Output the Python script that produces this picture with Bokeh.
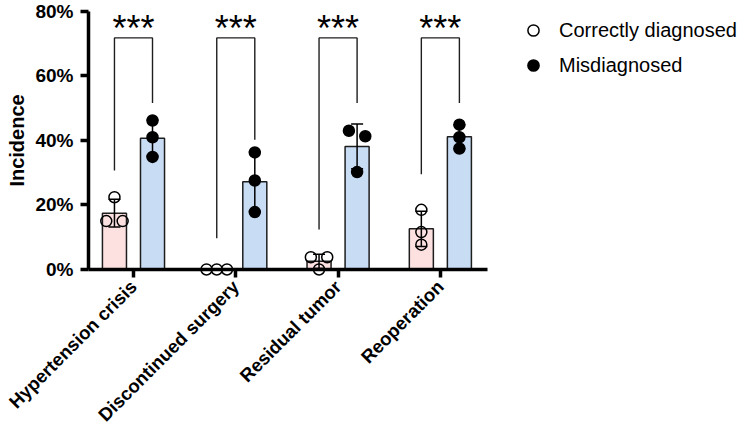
import numpy as np
from bokeh.plotting import figure
from bokeh.models import ColumnDataSource, FixedTicker, Whisker, TeeHead, Legend, LegendItem
from bokeh.core.properties import value
from bokeh.embed import file_html
from bokeh.resources import INLINE

# data (percent)
categories = ["Hypertension crisis", "Discontinued surgery", "Residual tumor", "Reoperation"]
correct_pts = [[22.4, 15.0, 15.0], [0.0, 0.0, 0.0], [3.8, 3.8, 0.0], [18.5, 11.6, 7.7]]
mis_pts = [[46.2, 41.0, 34.9], [36.3, 27.6, 17.8], [43.0, 41.3, 30.2], [44.9, 41.0, 37.5]]
y_ticks = [0, 20, 40, 60, 80]
bracket_top = 71.8
bracket_left = [30.7, 9.7, 12.4, 29.5]
bracket_right = [51.6, 40.2, 51.6, 51.6]
stars = ["***", "***", "***", "***"]
star_level = 74.6

FONT = "Liberation Sans"
PINK = "#fde1e1"
BLUE = "#c8dcf4"
EDGE = "#1e1e1e"
OFF = 0.186      # half distance between paired bars
BAR_W = 0.235
DOT = 11
X0 = -0.44       # where the y axis stands

def spread(vals, x0, thr=3.4):
	# place overlapping dots side by side, the way prism does it
	vals = list(vals)
	xs = [x0] * len(vals)
	order = sorted(range(len(vals)), key=lambda i: -vals[i])
	groups, cur = [], [order[0]]
	for i in order[1:]:
		if abs(vals[cur[-1]] - vals[i]) < thr:
			cur.append(i)
		else:
			groups.append(cur)
			cur = [i]
	groups.append(cur)
	for g in groups:
		n = len(g)
		if n > 1:
			w = 0.08 if n == 2 else 0.1
			for k, i in enumerate(g):
				xs[i] = x0 - w + 2 * w * k / (n - 1)
	return xs

def group_source(pts, shift):
	x = [i + shift for i in range(len(pts))]
	m = [float(np.mean(v)) for v in pts]
	s = [float(np.std(v, ddof=1)) for v in pts]
	bars = ColumnDataSource(dict(x=x, top=m, lower=[a - b for a, b in zip(m, s)], upper=[a + b for a, b in zip(m, s)]))
	dx, dy = [], []
	for xi, v in zip(x, pts):
		dx += spread(v, xi)
		dy += list(v)
	dots = ColumnDataSource(dict(x=dx, y=dy))
	return bars, dots

# the frame fills the whole canvas; both axes are pinned inside it
p = figure(width=740, height=427, x_range=(-1.300, 5.934), y_range=(-49.0, 83.4),
	output_backend="svg", toolbar_location=None,
	min_border_left=0, min_border_right=0, min_border_top=0, min_border_bottom=0)
p.outline_line_color = None
p.grid.visible = False

# axes
p.yaxis.fixed_location = X0
p.yaxis.ticker = FixedTicker(ticks=y_ticks)
p.yaxis.major_label_overrides = {t: f"{t}%" for t in y_ticks}
p.yaxis.bounds = (0, 80)
p.yaxis.axis_label = "Incidence"
p.yaxis.axis_label_standoff = 4
p.xaxis.fixed_location = 0
p.xaxis.ticker = FixedTicker(ticks=list(range(len(categories))))
p.xaxis.major_label_overrides = {i: c for i, c in enumerate(categories)}
p.xaxis.bounds = (X0, 3.46)
p.xaxis.major_label_orientation = np.pi / 4
for ax in (p.xaxis[0], p.yaxis[0]):
	ax.axis_line_width = 3.5
	ax.axis_line_color = "black"
	ax.major_tick_line_width = 3.5
	ax.major_tick_line_color = "black"
	ax.major_tick_out = 8
	ax.major_tick_in = 0
	ax.minor_tick_line_color = None
	ax.major_label_text_font = FONT
	ax.major_label_text_font_style = "bold"
	ax.major_label_text_color = "black"
	ax.axis_label_text_font = FONT
	ax.axis_label_text_font_style = "bold"
	ax.axis_label_text_font_size = "20px"
	ax.axis_label_text_color = "black"
p.yaxis.major_label_text_font_size = "19px"
p.yaxis.major_label_standoff = 7
p.xaxis.major_label_text_font_size = "18.5px"
p.xaxis.major_label_standoff = 6

c_bars, c_dots = group_source(correct_pts, -OFF)
m_bars, m_dots = group_source(mis_pts, OFF)

p.vbar(x="x", top="top", width=BAR_W, source=c_bars, fill_color=PINK, line_color=EDGE, line_width=1.5)
p.vbar(x="x", top="top", width=BAR_W, source=m_bars, fill_color=BLUE, line_color=EDGE, line_width=1.5)

r_open = p.scatter("x", "y", source=c_dots, size=DOT, fill_alpha=0, line_color="black", line_width=1.5)
r_fill = p.scatter("x", "y", source=m_dots, size=DOT, fill_color="black", line_color="black", line_width=1.5)

for src in (c_bars, m_bars):
	p.add_layout(Whisker(base="x", upper="upper", lower="lower", source=src, dimension="height",
		line_width=1.5, line_color="black", level="glyph",
		upper_head=TeeHead(size=12, line_width=1.5, line_color="black"),
		lower_head=TeeHead(size=12, line_width=1.5, line_color="black")))

# significance brackets
xs, ys = [], []
for i in range(len(categories)):
	xs.append([i - OFF, i - OFF, i + OFF, i + OFF])
	ys.append([bracket_left[i], bracket_top, bracket_top, bracket_right[i]])
p.multi_line(xs, ys, line_color=EDGE, line_width=1.4)
p.text(x=list(range(len(categories))), y=[star_level] * len(categories), text=stars,
	text_align="center", text_baseline="middle", text_font=value(FONT),
	text_font_size="36px", text_color="black")

legend = Legend(items=[LegendItem(label="Correctly diagnosed", renderers=[r_open]),
	LegendItem(label="Misdiagnosed", renderers=[r_fill])],
	location=(519, 348), glyph_width=28, glyph_height=28, spacing=7, label_standoff=12,
	padding=0, margin=0, border_line_color=None, background_fill_alpha=0,
	label_text_font=FONT, label_text_font_size="20px", label_text_color="black")
p.add_layout(legend)

open("out.html", "w").write(file_html(p, INLINE))
